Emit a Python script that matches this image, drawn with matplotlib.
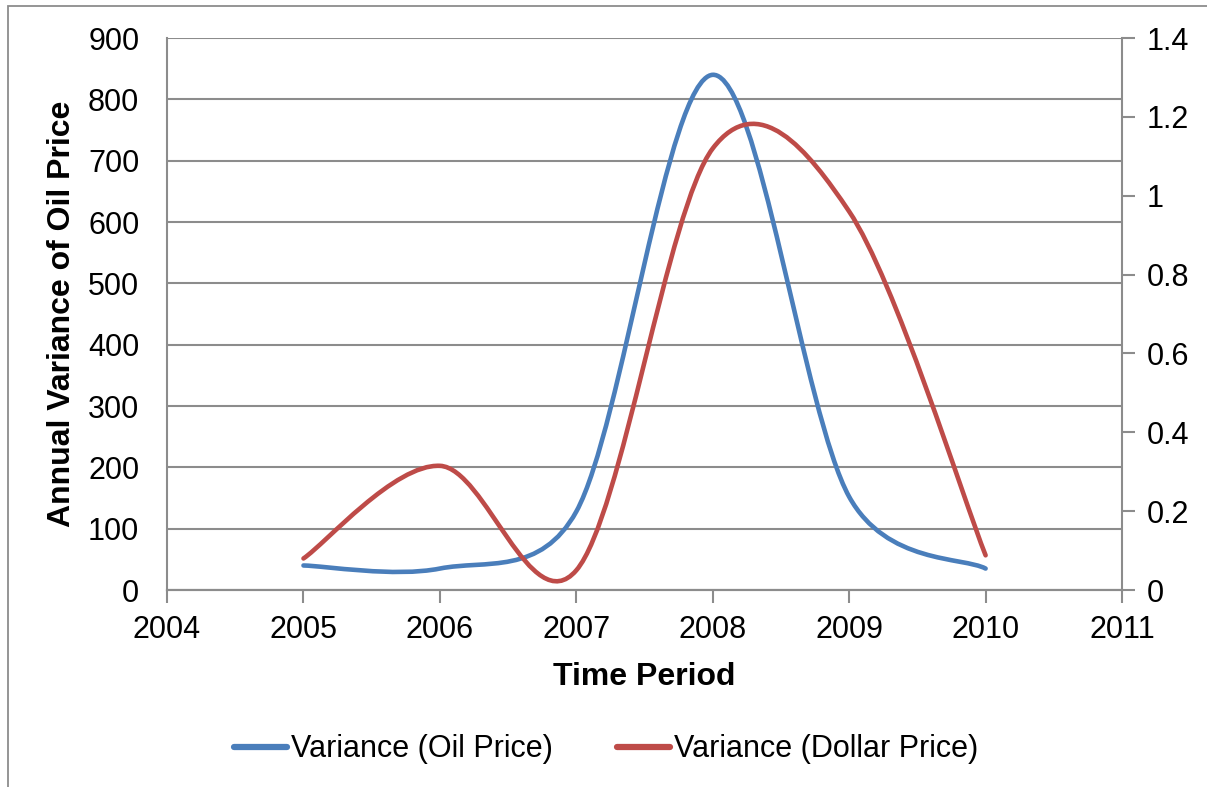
import numpy as np
import matplotlib.pyplot as plt
from matplotlib.path import Path
from matplotlib.patches import PathPatch, Rectangle
from matplotlib.lines import Line2D

plt.rcParams['font.family'] = ['Liberation Sans', 'DejaVu Sans']

# Daten
years = [2005, 2006, 2007, 2008, 2009, 2010]
oil_var = [40, 35, 128, 840, 152, 35]
dollar_var = [0.08, 0.315, 0.05, 1.12, 0.96, 0.088]

x_ticks = [2004, 2005, 2006, 2007, 2008, 2009, 2010, 2011]
left_ticks = [0, 100, 200, 300, 400, 500, 600, 700, 800, 900]
right_ticks = [0, 0.2, 0.4, 0.6, 0.8, 1, 1.2, 1.4]
right_labels = ['0', '0.2', '0.4', '0.6', '0.8', '1', '1.2', '1.4']

blue = '#4A7EBB'
red = '#BE4B48'
grid_col = '#8C8C8C'


def smooth_path(a, xs, ys):
    """Excel-artige geglaettete Linie: Bezier mit Spannung 1/6 in Pixeln,
    Griffe hoechstens halb so lang wie das Segment"""
    p = a.transData.transform(np.column_stack([xs, ys]).astype(float))
    n = len(p)
    verts = [p[0]]
    codes = [Path.MOVETO]
    for i in range(n - 1):
        p0 = p[i - 1] if i > 0 else p[i]
        p1, p2 = p[i], p[i + 1]
        p3 = p[i + 2] if i + 2 < n else p[i + 1]
        d12 = np.linalg.norm(p2 - p1)
        v1 = (p2 - p0) / 6.0
        v2 = (p3 - p1) / 6.0
        if np.linalg.norm(v1) > d12 / 2:
            v1 = v1 * (d12 / 2) / np.linalg.norm(v1)
        if np.linalg.norm(v2) > d12 / 2:
            v2 = v2 * (d12 / 2) / np.linalg.norm(v2)
        verts += [p1 + v1, p2 - v2, p2]
        codes += [Path.CURVE4] * 3
    verts = a.transData.inverted().transform(np.array(verts))
    return Path(verts, codes)


fig = plt.figure(figsize=(12.07, 7.87), dpi=100)
ax = fig.add_axes([0.1384, 0.2503, 0.7912, 0.7014])
ax2 = ax.twinx()

# Rahmen um das Diagramm
fig.patches.append(Rectangle((8 / 1207, -0.05), 1.1, 1 - 6 / 787 + 0.05,
                             transform=fig.transFigure, fill=False,
                             edgecolor='#8C8C8C', linewidth=1.3))

ax.set_xlim(2004, 2011)
ax.set_ylim(0, 900)
ax2.set_ylim(0, 1.4)

ax.set_xticks(x_ticks)
ax.set_yticks(left_ticks)
ax2.set_yticks(right_ticks)
ax2.set_yticklabels(right_labels)

ax.grid(axis='y', color=grid_col, linewidth=1.5)
ax.set_axisbelow(True)

for a in (ax, ax2):
    for s in a.spines.values():
        s.set_color(grid_col)
        s.set_linewidth(1.5)
    a.spines['top'].set_visible(False)
ax.spines['right'].set_visible(False)
ax2.spines['left'].set_visible(False)

ax.tick_params(axis='x', direction='out', length=9, width=1.5, color=grid_col,
               labelsize=22, pad=9)
ax.tick_params(axis='y', length=0, labelsize=22, pad=20)
ax2.tick_params(axis='y', direction='out', length=9, width=1.5, color=grid_col,
                labelsize=22, pad=9)

ax.add_patch(PathPatch(smooth_path(ax, years, oil_var), fill=False,
                       edgecolor=blue, linewidth=3.3, capstyle='round', zorder=3))
ax2.add_patch(PathPatch(smooth_path(ax2, years, dollar_var), fill=False,
                        edgecolor=red, linewidth=3.3, capstyle='round', zorder=3))

ax.set_xlabel('Time Period', fontsize=23, fontweight='bold', labelpad=12)
ax.set_ylabel('Annual Variance of Oil Price', fontsize=23, fontweight='bold', labelpad=8)

handles = [Line2D([], [], color=blue, linewidth=4.5, solid_capstyle='round'),
           Line2D([], [], color=red, linewidth=4.5, solid_capstyle='round')]
fig.legend(handles, ['Variance (Oil Price)', 'Variance (Dollar Price)'],
           loc='center', bbox_to_anchor=(0.502, 0.048), ncol=2, frameon=False,
           fontsize=22, handlelength=1.75, handletextpad=0.12, columnspacing=2.1)

plt.savefig('out.png', dpi=100)
